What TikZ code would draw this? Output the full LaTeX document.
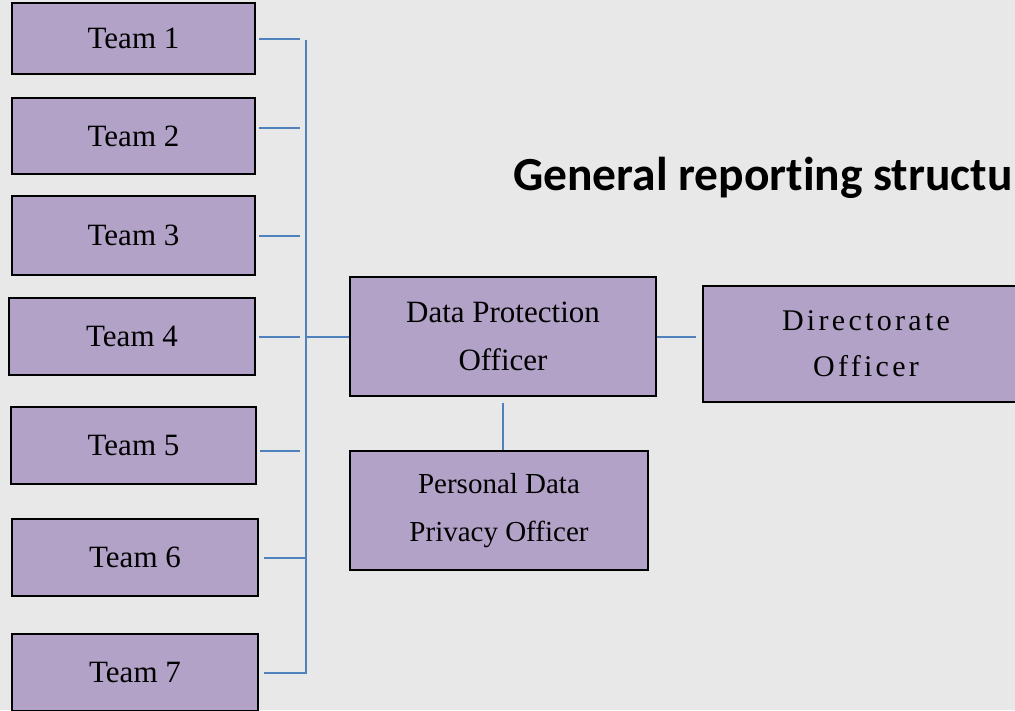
\documentclass[tikz,border=0pt]{standalone}
\usepackage{fontspec}
\setmainfont{Liberation Serif}
\newfontfamily\titlefont[Ligatures=NoCommon]{Carlito}
\definecolor{boxlilac}{HTML}{B2A2C7}
\definecolor{linkblue}{HTML}{4F81BD}
\definecolor{slidegray}{HTML}{E8E8E8}
\tikzset{
	teambox/.style={draw=black, line width=2pt, fill=boxlilac, inner sep=0pt, minimum width=243pt, minimum height=77pt, font=\fontsize{31}{38}\selectfont},
	officerbox/.style={draw=black, line width=2pt, fill=boxlilac, inner sep=0pt, align=center},
	link/.style={draw=linkblue, line width=2pt}
}
\begin{document}
\begin{tikzpicture}[x=1pt, y=-1pt]
		\fill[slidegray] (0,0) rectangle (1015,710);
		\useasboundingbox (0,0) rectangle (1015,710);
		%title, runs off the right edge
		\node[anchor=base west, inner sep=0pt, font=\titlefont\bfseries\fontsize{47.5}{47.5}\selectfont] (title) at (513,190) {General reporting structu};
		%teams 1-7
		\node[teambox, minimum height=71pt] (team1) at (133.5,38.5) {Team 1};
		\node[teambox, minimum height=76pt] (team2) at (133.5,136) {Team 2};
		\node[teambox, minimum height=79pt] (team3) at (133.5,235.5) {Team 3};
		\node[teambox, minimum width=246pt] (team4) at (132,336.5) {Team 4};
		\node[teambox, minimum width=245pt] (team5) at (133.5,445.5) {Team 5};
		\node[teambox, minimum width=246pt] (team6) at (135,557.5) {Team 6};
		\node[teambox, minimum width=246pt] (team7) at (135,672.5) {Team 7};
		%officers
		\node[officerbox, minimum width=306pt, minimum height=119pt, font=\fontsize{31}{48}\selectfont] (dpo) at (503,336.5) {Data Protection\\Officer};
		\node[officerbox, minimum width=298pt, minimum height=119pt, font=\fontsize{29}{48}\selectfont] (pdpo) at (499,510.5) {Personal Data\\Privacy Officer};
		\node[officerbox, minimum width=326pt, minimum height=116pt, font=\fontsize{30}{46}\selectfont\addfontfeatures{LetterSpace=11}] (dir) at (866,344) {Directorate\\Officer};
		%bus line
		\coordinate (stubend) at (300,0);
		\coordinate (bustop) at (306,40);
		\draw[link] ([xshift=3pt]team1.east) -- (team1.east -| stubend);
		\draw[link] ([xshift=3pt,yshift=8pt]team2.east) -- ([yshift=8pt]team2.east -| stubend);
		\draw[link] ([xshift=3pt]team3.east) -- (team3.east -| stubend);
		\draw[link] ([xshift=3pt]team4.east) -- (team4.east -| stubend);
		\draw[link] ([xshift=3pt,yshift=-5.5pt]team5.east) -- ([yshift=-5.5pt]team5.east -| stubend);
		\draw[link] ([xshift=5pt]team6.east) -- (team6.east -| bustop);
		\draw[link] ([xshift=5pt]team7.east) -| (bustop);
		%links to the officers
		\draw[link] (dpo.west -| bustop) -- (dpo.west);
		\draw[link] (dpo.east) -- ([xshift=-6pt]dpo.east -| dir.west);
		\draw[link] ([yshift=-6pt]dpo.south) -- (dpo.south |- pdpo.north);
	\end{tikzpicture}
\end{document}
